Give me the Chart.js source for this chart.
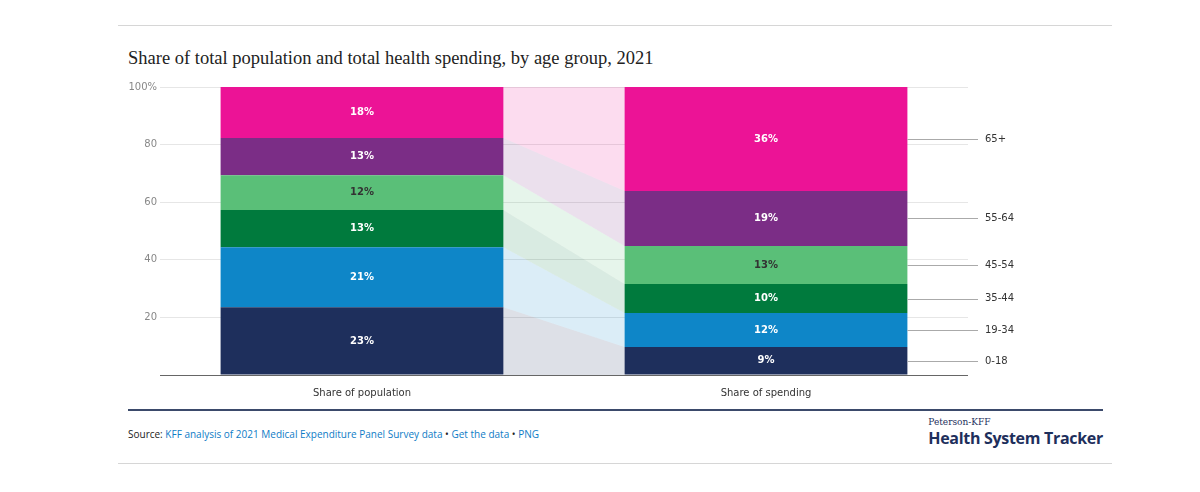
<!DOCTYPE html>
<html lang="en">
<head>
<meta charset="UTF-8">
<title>Share of population and spending</title>
<script src="https://cdn.jsdelivr.net/npm/chart.js"></script>
<style>
  body { margin: 0; background: #fff; width: 1200px; height: 492px; position: relative; font-family: "Open Sans", sans-serif; overflow: hidden; }
  .rule { position: absolute; left: 118px; width: 994px; height: 1px; background: #d6d6d6; }
  h1 { position: absolute; left: 128px; top: 48px; margin: 0; font: 400 18.5px "Liberation Serif", serif; color: #222; }
  #wrap { position: absolute; left: 120px; top: 75px; width: 920px; height: 325px; }
  .navy { position: absolute; left: 128px; top: 409px; width: 975px; height: 2px; background: #3b4a6b; }
  .src { position: absolute; left: 128px; top: 427px; font: 10px "Open Sans", sans-serif; color: #222; }
  .src span { color: #0e7cc6; }
  .logo { position: absolute; right: 97px; top: 417px; text-align: left; color: #1e2f5c; }
  .logo small { display: block; font: 9px "DejaVu Serif", serif; }
  .logo b { display: block; font: 700 16px "Open Sans", sans-serif; letter-spacing: -0.3px; }
</style>
</head>
<body>
<div class="rule" style="top:25px"></div>
<h1>Share of total population and total health spending, by age group, 2021</h1>
<div id="wrap"><canvas id="c"></canvas></div>
<div class="navy"></div>
<div class="src">Source: <span>KFF analysis of 2021 Medical Expenditure Panel Survey data</span> • <span>Get the data</span> • <span>PNG</span></div>
<div class="logo"><small>Peterson-KFF</small><b>Health System Tracker</b></div>
<div class="rule" style="top:463px"></div>
<script>
const categories = ['Share of population', 'Share of spending'];
const ageGroups = ['0-18', '19-34', '35-44', '45-54', '55-64', '65+'];
const population = [23.5, 20.9, 12.9, 12.1, 12.9, 17.7];
const spending = [9.7, 11.8, 10.1, 13.2, 19.1, 36.1];
const labelsPop = ['23%', '21%', '13%', '12%', '13%', '18%'];
const labelsSpend = ['9%', '12%', '10%', '13%', '19%', '36%'];
const colors = ['#1e2f5c', '#0e86c8', '#007a3d', '#5abf78', '#7b2d86', '#ec1396'];
const textColors = ['#fff', '#fff', '#fff', '#333', '#fff', '#fff'];

function hexA(h, a) {
  const n = parseInt(h.slice(1), 16);
  return `rgba(${n >> 16},${(n >> 8) & 255},${n & 255},${a})`;
}

const flowPlugin = {
  id: 'flow',
  beforeDatasetsDraw(chart) {
    const c = chart.ctx, y = chart.scales.y;
    let p = 0, s = 0;
    ageGroups.forEach((g, i) => {
      const b1 = chart.getDatasetMeta(i).data[0], b2 = chart.getDatasetMeta(i).data[1];
      const x1 = b1.x + b1.width / 2, x2 = b2.x - b2.width / 2;
      c.save();
      c.fillStyle = hexA(colors[i], 0.15);
      c.beginPath();
      c.moveTo(x1, y.getPixelForValue(p));
      c.lineTo(x2, y.getPixelForValue(s));
      c.lineTo(x2, y.getPixelForValue(s + spending[i]));
      c.lineTo(x1, y.getPixelForValue(p + population[i]));
      c.closePath();
      c.fill();
      c.restore();
      p += population[i]; s += spending[i];
    });
  },
  afterDatasetsDraw(chart) {
    const c = chart.ctx, y = chart.scales.y, area = chart.chartArea;
    c.save();
    c.font = 'bold 10px "DejaVu Sans", sans-serif';
    c.textAlign = 'center'; c.textBaseline = 'middle';
    ageGroups.forEach((g, i) => {
      const m = chart.getDatasetMeta(i);
      [labelsPop[i], labelsSpend[i]].forEach((t, j) => {
        const el = m.data[j];
        c.fillStyle = textColors[i];
        c.fillText(t, el.x, (el.y + el.base) / 2);
      });
    });
    // right-side group labels
    let s = 0;
    const bar = chart.getDatasetMeta(0).data[1];
    const xr = bar.x + bar.width / 2;
    c.font = '10px "DejaVu Sans", sans-serif';
    c.textAlign = 'left';
    ageGroups.forEach((g, i) => {
      const ym = y.getPixelForValue(s + spending[i] / 2);
      c.strokeStyle = '#aaa'; c.lineWidth = 1;
      c.beginPath(); c.moveTo(xr, Math.round(ym) + 0.5); c.lineTo(area.right + 10, Math.round(ym) + 0.5); c.stroke();
      c.fillStyle = '#333';
      c.fillText(g, area.right + 17, ym);
      s += spending[i];
    });
    c.strokeStyle = '#666';
    c.beginPath(); c.moveTo(area.left, area.bottom + 0.5); c.lineTo(area.right, area.bottom + 0.5); c.stroke();
    c.restore();
  }
};

new Chart(document.getElementById('c'), {
  type: 'bar',
  data: {
    labels: categories,
    datasets: ageGroups.map((g, i) => ({
      label: g,
      data: [population[i], spending[i]],
      backgroundColor: colors[i],
      barPercentage: 0.7,
      categoryPercentage: 1
    }))
  },
  options: {
    responsive: true,
    maintainAspectRatio: false,
    animation: false,
    layout: { padding: { top: 12, right: 72, left: 0, bottom: 0 } },
    plugins: { legend: { display: false }, tooltip: { enabled: false } },
    scales: {
      x: {
        stacked: true,
        grid: { display: false },
        border: { display: false },
        ticks: { color: '#333', font: { size: 10, family: 'DejaVu Sans' }, padding: 4 },
        afterFit(s) { s.height = 25; }
      },
      y: {
        stacked: true,
        min: 0, max: 100,
        ticks: {
          stepSize: 20,
          color: '#888',
          font: { size: 10, family: 'DejaVu Sans' },
          callback: v => v === 0 ? '' : (v === 100 ? '100%' : v)
        },
        grid: { color: '#e6e6e6', drawTicks: false },
        border: { display: false },
        afterFit(s) { s.width = 40; }
      }
    }
  },
  plugins: [flowPlugin]
});
</script>
</body>
</html>
